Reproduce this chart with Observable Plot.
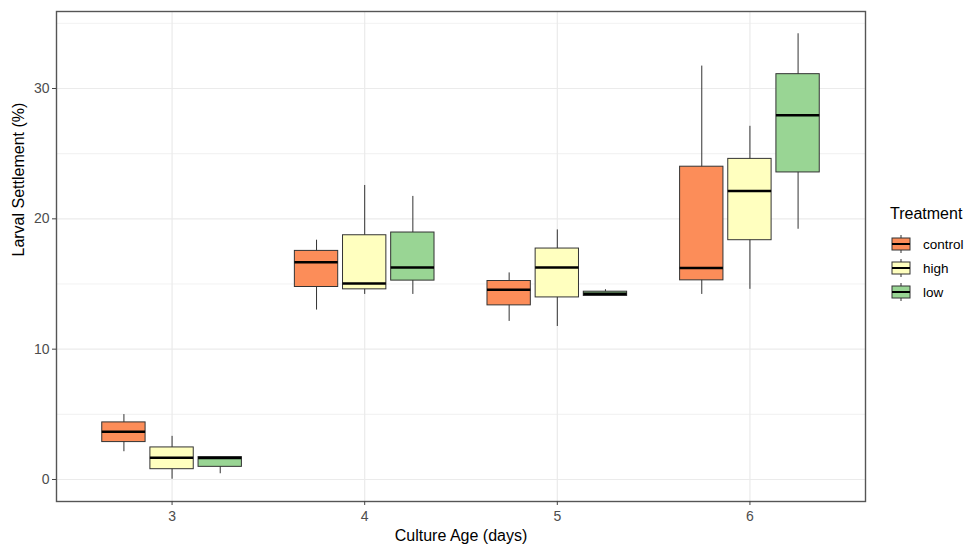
<!DOCTYPE html>
<html>
<head>
<meta charset="utf-8">
<script src="https://cdn.jsdelivr.net/npm/d3@7"></script>
<script src="https://cdn.jsdelivr.net/npm/@observablehq/plot@0.6"></script>
<style>
  html, body { margin: 0; padding: 0; background: #fff; }
  #wrap { position: relative; width: 972px; height: 548px; font-family: "Liberation Sans", Arial, sans-serif; }
  #legend { position: absolute; left: 890px; top: 205px; color: #000; }
  #legend .title { font-size: 16px; margin-bottom: 9px; }
  #legend .item { display: flex; align-items: center; height: 24px; font-size: 13.5px; color: #000; }
  #legend svg { margin-right: 11px; }
</style>
</head>
<body>
<div id="wrap"></div>
<script>
// ---- data ----
const days = [3, 4, 5, 6];
const treatments = ["control", "high", "low"];
const treatmentColors = ["#FC8D59", "#FFFFBF", "#99D594"];
// per day: [lower whisker, Q1, median, Q3, upper whisker]
const control = [[2.13, 2.87, 3.67, 4.38, 4.98], [13.0, 14.77, 16.67, 17.54, 18.36], [12.13, 13.36, 14.56, 15.23, 15.85], [14.2, 15.28, 16.23, 24.0, 31.72]];
const high    = [[0.02, 0.79, 1.67, 2.46, 3.31], [14.2, 14.59, 15.03, 18.74, 22.56], [11.74, 13.97, 16.26, 17.72, 19.15], [14.59, 18.36, 22.13, 24.6, 27.1]];
const low     = [[0.44, 0.97, 1.65, 1.72, 1.72], [14.2, 15.26, 16.26, 18.95, 21.72], [14.08, 14.08, 14.26, 14.41, 14.56], [19.2, 23.56, 27.95, 31.1, 34.2]];
const yTicks = [0, 10, 20, 30];
const yMinor = [5, 15, 25, 35];

const series = {control, high, low};
const dodge = 0.25, halfBox = 0.1125;
const stats = [];
days.forEach((day, di) => {
  treatments.forEach((t, ti) => {
    const [lo, q1, med, q3, hi] = series[t][di];
    stats.push({day, treatment: t, x: day + (ti - 1) * dodge, lo, q1, med, q3, hi});
  });
});

const ymin = d3.min(stats, d => d.lo), ymax = d3.max(stats, d => d.hi);
const pad = (ymax - ymin) * 0.05;

const plot = Plot.plot({
  width: 972,
  height: 548,
  marginLeft: 56,
  marginRight: 107,
  marginTop: 11,
  marginBottom: 47,
  style: {fontFamily: "Liberation Sans, Arial, sans-serif", background: "#fff"},
  x: {type: "linear", domain: [days[0] - 0.6, days[days.length - 1] + 0.6]},
  y: {domain: [ymin - pad, ymax + pad]},
  color: {domain: treatments, range: treatmentColors},
  marks: [
    Plot.ruleY(yMinor, {stroke: "#ebebeb", strokeWidth: 0.7}),
    Plot.ruleY(yTicks, {stroke: "#ebebeb", strokeWidth: 1.2}),
    Plot.ruleX(days, {stroke: "#ebebeb", strokeWidth: 1.2}),
    Plot.ruleX(stats, {x: "x", y1: "lo", y2: "hi", stroke: "#333", strokeWidth: 1}),
    Plot.rect(stats, {x1: d => d.x - halfBox, x2: d => d.x + halfBox, y1: "q1", y2: "q3", fill: "treatment", stroke: "#333", strokeWidth: 1}),
    Plot.ruleY(stats, {x1: d => d.x - halfBox, x2: d => d.x + halfBox, y: "med", stroke: "#000", strokeWidth: 2.5}),
    Plot.frame({stroke: "#555", strokeWidth: 1.4}),
    Plot.axisY({ticks: yTicks, tickSize: 4, tickPadding: 3, fontSize: 14, color: "#4d4d4d", label: null}),
    Plot.axisX({ticks: days, tickFormat: d => String(d), tickSize: 4, tickPadding: 6, fontSize: 14, color: "#4d4d4d", label: null}),
    Plot.text(["Larval Settlement (%)"], {frameAnchor: "left", dx: -38, rotate: -90, fontSize: 16, fill: "#000"}),
    Plot.text(["Culture Age (days)"], {frameAnchor: "bottom", dy: 39, fontSize: 16, fill: "#000"})
  ]
});
d3.select(plot).selectAll("[aria-label='y-axis tick'], [aria-label='x-axis tick']").attr("stroke", "#444");
document.getElementById("wrap").appendChild(plot);

// legend
const legend = d3.select("#wrap").append("div").attr("id", "legend");
legend.append("div").attr("class", "title").text("Treatment");
treatments.forEach((t, i) => {
  const item = legend.append("div").attr("class", "item");
  const s = item.append("svg").attr("width", 22).attr("height", 20);
  s.append("line").attr("x1", 11).attr("x2", 11).attr("y1", 1).attr("y2", 19).attr("stroke", "#333");
  s.append("rect").attr("x", 2).attr("y", 4).attr("width", 18).attr("height", 12).attr("fill", treatmentColors[i]).attr("stroke", "#333");
  s.append("line").attr("x1", 2).attr("x2", 20).attr("y1", 10).attr("y2", 10).attr("stroke", "#000").attr("stroke-width", 2);
  item.append("span").text(t);
});
</script>
</body>
</html>
